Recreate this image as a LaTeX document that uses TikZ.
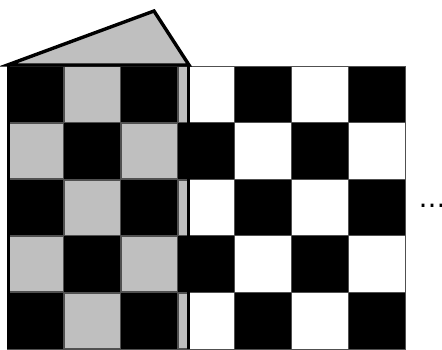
\documentclass[tikz,border=0pt]{standalone}
\usepackage{fontspec}
\newfontfamily\dotsfont{DejaVu Sans}
\usepackage{tikz}
\definecolor{sheetgray}{HTML}{BFBFBF}
\definecolor{edgegray}{HTML}{505050}
\tikzset{
  cellbox/.style={draw=edgegray, line width=0.8pt},
  thickedge/.style={draw=black, line width=3.4pt, line join=miter},
}
\begin{document}
\begin{tikzpicture}[x=1pt,y=-1pt]
\useasboundingbox (0,0) rectangle (442,349);
\def\cw{56.86}
\def\ch{56.6}
\begin{scope}
\clip (0,0) rectangle (442,349);
% base board
\foreach \i in {0,...,6}{
  \foreach \j in {0,...,4}{
    \pgfmathtruncatemacro{\cellpar}{mod(\i+\j,2)}
    \ifnum\cellpar=0
      \path[cellbox, fill=black] ({7+\i*\cw},{66+\j*\ch}) rectangle ++(\cw,\ch);
    \else
      \path[cellbox, fill=white] ({7+\i*\cw},{66+\j*\ch}) rectangle ++(\cw,\ch);
    \fi
  }
}
% overlay gray cells
\foreach \i in {0,...,2}{
  \foreach \j in {0,...,4}{
    \pgfmathtruncatemacro{\cellpar}{mod(\i+\j,2)}
    \ifnum\cellpar=1
      \path[cellbox, fill=sheetgray] ({7+\i*\cw+0.6},{66+\j*\ch+0.8}) rectangle ++({\cw-1.2},{\ch-1.4});
    \fi
  }
}
% strip in column 3
\foreach \j in {0,2,4}{
  \path[cellbox, fill=sheetgray] (178.6,{66+\j*\ch+0.8}) rectangle (187.2,{66+(\j+1)*\ch-0.6});
}
% sheet edges
\draw[line width=3.6pt] (8.3,64) -- (8.3,349);
\draw[line width=2.8pt] (188.6,64) -- (188.6,349);
% dots
\node[anchor=base west, inner sep=0pt, font=\dotsfont\fontsize{27}{30}\selectfont] (dots) at (418.5,207) {…};
\end{scope}
% roof
\coordinate (rl) at (7.5,65);
\coordinate (rt) at (154,11);
\coordinate (rr) at (189,65);
\path[thickedge, fill=sheetgray] (rl) -- (rt) -- (rr) -- cycle;
\end{tikzpicture}
\end{document}
